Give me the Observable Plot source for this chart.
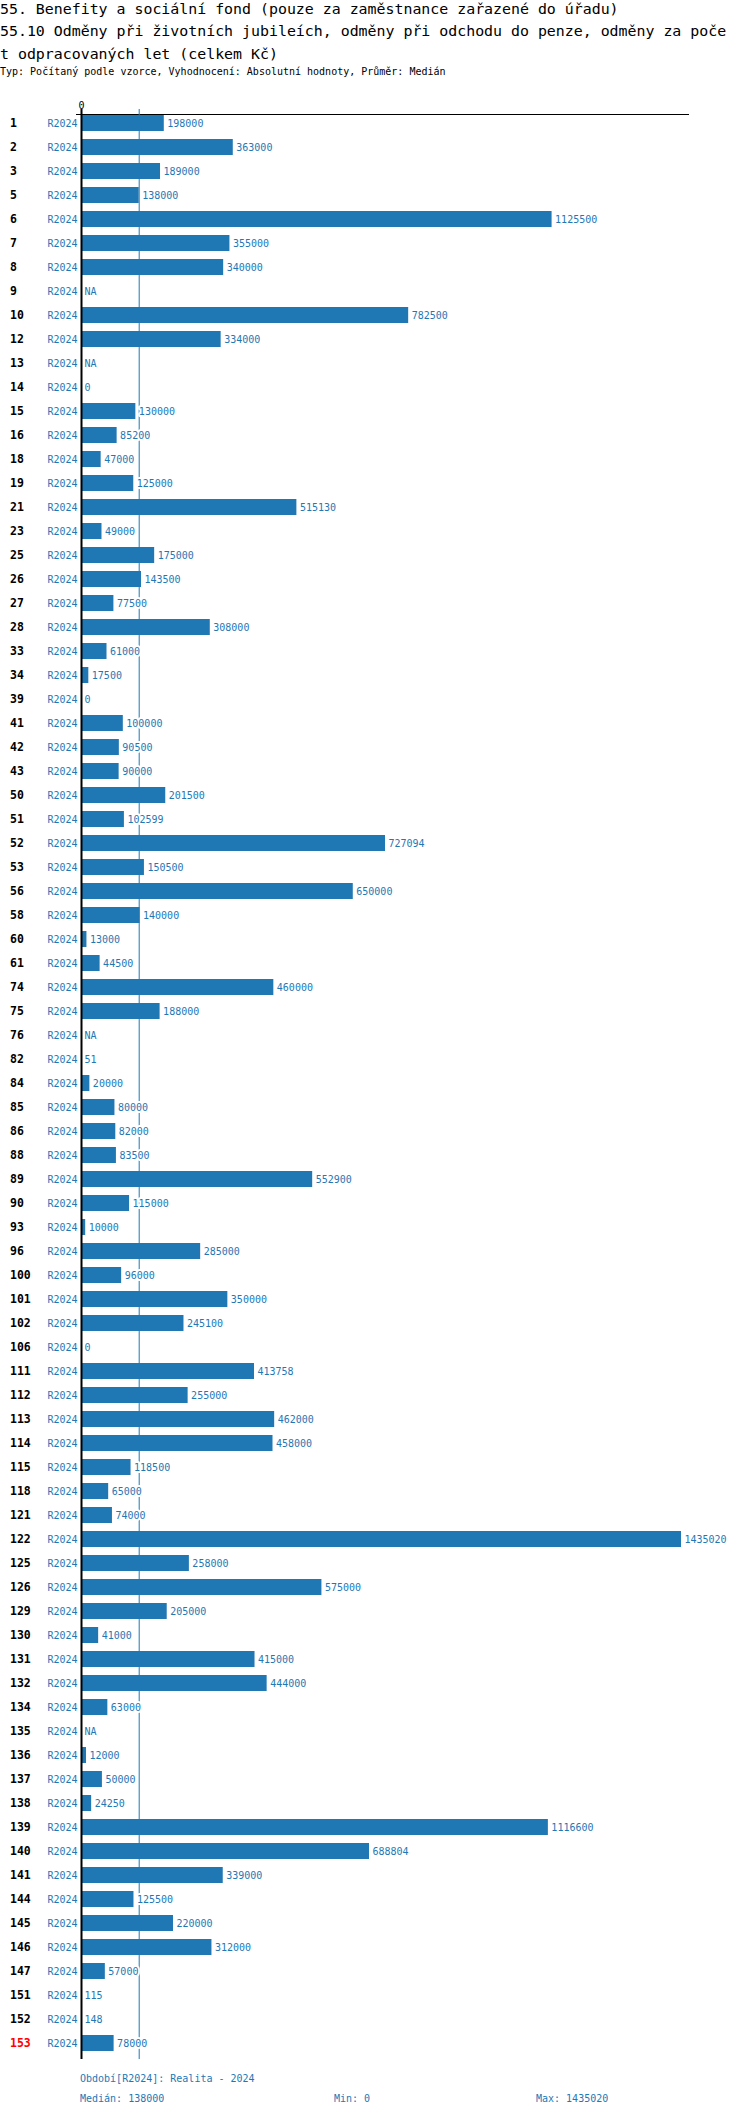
<!DOCTYPE html>
<html>
<head>
<meta charset="utf-8">
<script src="https://cdn.jsdelivr.net/npm/d3@7"></script>
<script src="https://cdn.jsdelivr.net/npm/@observablehq/plot@0.6"></script>
<style>
  body { margin: 0; background: white; width: 750px; }
  #head { position: relative; height: 90px; }
  #title { position: absolute; top: -2px; left: 0; width: 730px; font-family: 'DejaVu Sans Mono', monospace; font-size: 14.9px; line-height: 22.3px; word-break: break-all; color: #000; }
  #subtitle { position: absolute; top: 66px; left: 0; font-family: 'DejaVu Sans Mono', monospace; font-size: 10px; color: #000; white-space: nowrap; }
  #chart svg { display: block; }
  #foot { position: relative; height: 58px; font-family: 'DejaVu Sans Mono', monospace; font-size: 10px; color: #1f77b4; }
  #foot div { position: absolute; white-space: nowrap; }
</style>
</head>
<body>
<div id="head">
  <div id="title"></div>
  <div id="subtitle"></div>
</div>
<div id="chart"></div>
<div id="foot"></div>
<script>
const titleLines = [
  "55. Benefity a sociální fond (pouze za zaměstnance zařazené do úřadu)",
  "55.10 Odměny při životních jubileích, odměny při odchodu do penze, odměny za počet odpracovaných let (celkem Kč)"
];
const subtitleText = "Typ: Počítaný podle vzorce, Vyhodnocení: Absolutní hodnoty, Průměr: Medián";

const ids = [1,2,3,5,6,7,8,9,10,12,13,14,15,16,18,19,21,23,25,26,27,28,33,34,39,41,42,43,50,51,52,53,56,58,60,61,74,75,76,82,84,85,86,88,89,90,93,96,100,101,102,106,111,112,113,114,115,118,121,122,125,126,129,130,131,132,134,135,136,137,138,139,140,141,144,145,146,147,151,152,153];
const values = [198000,363000,189000,138000,1125500,355000,340000,null,782500,334000,
  null,0,130000,85200,47000,125000,515130,49000,175000,143500,
  77500,308000,61000,17500,0,100000,90500,90000,201500,102599,
  727094,150500,650000,140000,13000,44500,460000,188000,null,51,
  20000,80000,82000,83500,552900,115000,10000,285000,96000,350000,
  245100,0,413758,255000,462000,458000,118500,65000,74000,1435020,
  258000,575000,205000,41000,415000,444000,63000,null,12000,50000,
  24250,1116600,688804,339000,125500,220000,312000,57000,115,148,
  78000];
const period = "R2024";
const highlightId = 153;
const periodNote = "Období[R2024]: Realita - 2024";
const medianValue = 138000;
const minValue = 0;
const maxValue = 1435020;

const blue = "#1f77b4";

document.getElementById("title").innerHTML = titleLines.map(t => `<div>${t}</div>`).join("");
document.getElementById("subtitle").textContent = subtitleText;

const data = ids.map((id, i) => ({id: String(id), value: values[i], period}));

const chart = Plot.plot({
  width: 750,
  height: 1970,
  marginTop: 24,
  marginBottom: 5,
  marginLeft: 76,
  marginRight: 62,
  style: {fontFamily: "'DejaVu Sans Mono', monospace", fontSize: "10px", background: "white", color: "black"},
  x: {domain: [0, maxValue], insetLeft: 5, insetRight: 7, axis: null},
  y: {domain: ids.map(String), paddingInner: 1/3, paddingOuter: 1/6, insetTop: -3, axis: null},
  marks: [
    Plot.frame({anchor: "top", stroke: "black"}),
    Plot.ruleX([medianValue], {stroke: blue, strokeWidth: 1, insetTop: -5, insetBottom: -4}),
    Plot.barX(data.filter(d => d.value != null), {x: "value", y: "id", fill: blue}),
    Plot.text(data, {
      x: d => d.value ?? 0, y: "id",
      text: d => d.value == null ? "NA" : String(d.value),
      textAnchor: "start", dx: 3, fill: blue,
      stroke: "white", strokeWidth: 4, paintOrder: "stroke"
    }),
    Plot.text(data, {x: () => 0, y: "id", text: "period", textAnchor: "end", dx: -4, fill: blue}),
    Plot.text(data, {
      y: "id", text: "id", frameAnchor: "left", textAnchor: "start", dx: -66.5,
      fill: d => +d.id === highlightId ? "red" : "black", fontWeight: "bold", fontSize: 11.5
    }),
    Plot.axisX({anchor: "top", ticks: [0], tickSize: 0, tickPadding: 6, label: null, fill: "black"}),
    Plot.ruleX([0], {stroke: "black", strokeWidth: 2, insetTop: -5, insetBottom: -4})
  ]
});
document.getElementById("chart").appendChild(chart);

const foot = document.getElementById("foot");
const items = [
  {t: periodNote, left: 80, top: 13},
  {t: "Medián: " + medianValue, left: 80, top: 33},
  {t: "Min: " + minValue, left: 334, top: 33},
  {t: "Max: " + maxValue, left: 536, top: 33}
];
for (const it of items) {
  const d = document.createElement("div");
  d.textContent = it.t;
  d.style.left = it.left + "px";
  d.style.top = it.top + "px";
  foot.appendChild(d);
}
</script>
</body>
</html>
